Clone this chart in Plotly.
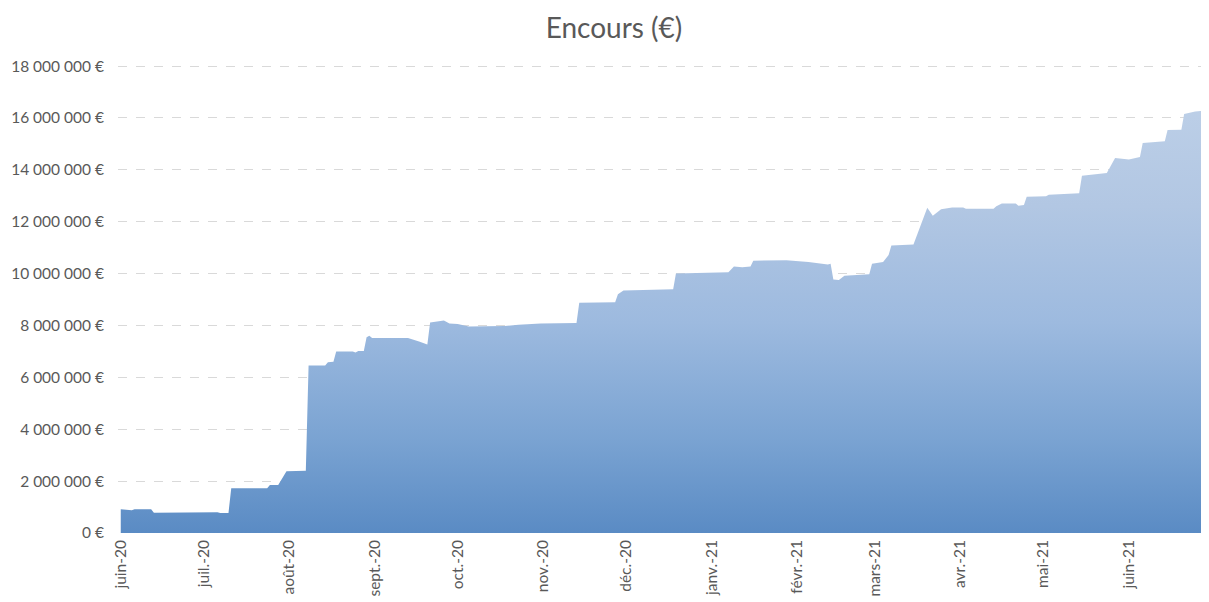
import plotly.graph_objects as go

# Daily outstanding amount (€) (step points)
dates = [
    "2020-06-01", "2020-06-05", "2020-06-06", "2020-06-12", "2020-06-13",
    "2020-07-03", "2020-07-04", "2020-07-06", "2020-07-07", "2020-07-10",
    "2020-07-11", "2020-07-24", "2020-07-25", "2020-07-28", "2020-07-31",
    "2020-08-07", "2020-08-08", "2020-08-14", "2020-08-15", "2020-08-17",
    "2020-08-18", "2020-08-24", "2020-08-25", "2020-08-26", "2020-08-28",
    "2020-08-29", "2020-08-30", "2020-08-31", "2020-09-10", "2020-09-13",
    "2020-09-17", "2020-09-20", "2020-09-21", "2020-09-26", "2020-09-28",
    "2020-10-01", "2020-10-05", "2020-10-18", "2020-10-23", "2020-10-31",
    "2020-11-13", "2020-11-14", "2020-11-27", "2020-11-28", "2020-11-30",
    "2020-12-18", "2020-12-19", "2021-01-07", "2021-01-09", "2021-01-12",
    "2021-01-15", "2021-01-16", "2021-01-28", "2021-02-05", "2021-02-12",
    "2021-02-13", "2021-02-14", "2021-02-16", "2021-02-18", "2021-02-27",
    "2021-02-28", "2021-03-04", "2021-03-06", "2021-03-07", "2021-03-15",
    "2021-03-20", "2021-03-22", "2021-03-25", "2021-03-29", "2021-04-02",
    "2021-04-03", "2021-04-13", "2021-04-14", "2021-04-16", "2021-04-21",
    "2021-04-22", "2021-04-24", "2021-04-25", "2021-05-02", "2021-05-03",
    "2021-05-14", "2021-05-15", "2021-05-24", "2021-05-27", "2021-06-01",
    "2021-06-05", "2021-06-06", "2021-06-14", "2021-06-15", "2021-06-20",
    "2021-06-21", "2021-06-25", "2021-06-27", "2021-06-30",
]
encours = [
    920000, 880000, 920000, 920000, 780000,
    780000, 800000, 800000, 770000, 770000,
    1730000, 1730000, 1850000, 1850000, 2380000,
    2400000, 6460000, 6460000, 6580000, 6600000,
    7000000, 7000000, 6960000, 7020000, 7020000,
    7550000, 7600000, 7520000, 7520000, 7520000,
    7380000, 7270000, 8120000, 8190000, 8080000,
    8060000, 7960000, 7980000, 8030000, 8080000,
    8100000, 8880000, 8900000, 9200000, 9350000,
    9400000, 10000000, 10050000, 10270000, 10250000,
    10270000, 10500000, 10520000, 10450000, 10350000,
    10380000, 9770000, 9750000, 9920000, 9980000,
    10380000, 10450000, 10720000, 11080000, 11120000,
    12540000, 12230000, 12480000, 12550000, 12550000,
    12500000, 12500000, 12600000, 12700000, 12700000,
    12620000, 12650000, 12960000, 12980000, 13040000,
    13100000, 13770000, 13880000, 14460000, 14400000,
    14500000, 15040000, 15100000, 15540000, 15550000,
    16150000, 16250000, 16270000, 16200000,
]

month_ticks = [
    "2020-06-01", "2020-07-01", "2020-08-01", "2020-09-01", "2020-10-01",
    "2020-11-01", "2020-12-01", "2021-01-01", "2021-02-01", "2021-03-01",
    "2021-04-01", "2021-05-01", "2021-06-01",
]
month_labels = [
    "juin-20", "juil.-20", "août-20", "sept.-20", "oct.-20", "nov.-20",
    "déc.-20", "janv.-21", "févr.-21", "mars-21", "avr.-21", "mai-21", "juin-21",
]
y_ticks = [0, 2000000, 4000000, 6000000, 8000000, 10000000,
           12000000, 14000000, 16000000, 18000000]
y_labels = ["{:,d} €".format(v).replace(",", " ") for v in y_ticks]

FONT = "Lato, 'Open Sans', sans-serif"
GREY = "#595959"

fig = go.Figure()
fig.add_trace(go.Scatter(
    x=dates, y=encours,
    mode="lines",
    line=dict(width=0, color="#6f9bd0"),
    fill="tozeroy",
    fillgradient=dict(
        type="vertical",
        start=0, stop=18000000,
        colorscale=[[0.0, "#5a8bc4"], [0.2, "#7aa3d2"],
                    [0.45, "#9dbadf"], [0.7, "#b2c7e3"], [1.0, "#c0d2e9"]],
    ),
    hoverinfo="x+y",
    showlegend=False,
))

# the page adds an 8px body margin, so the figure is sized/placed to compensate
fig.update_layout(
    width=1201, height=594,
    paper_bgcolor="white", plot_bgcolor="white",
    margin=dict(l=110, r=0, t=55, b=69),
    font=dict(family=FONT, color=GREY, size=15),
    title=dict(text="Encours (€)", x=606 / 1201, xref="container", xanchor="center",
               y=1 - 20 / 594, yref="container", yanchor="middle",
               font=dict(family=FONT, size=28, color=GREY)),
    xaxis=dict(
        type="date",
        range=["2020-05-31", "2021-06-30"],
        tickvals=month_ticks, ticktext=month_labels,
        tickangle=-90, showgrid=False, zeroline=False,
        showline=False, ticks="", automargin=False,
        ticklabelstandoff=3,
        tickfont=dict(size=15.5, color=GREY),
    ),
    yaxis=dict(
        range=[0, 18120000],
        tickvals=y_ticks, ticktext=y_labels,
        showgrid=True, gridcolor="#d9d9d9", griddash="dash", gridwidth=1,
        zeroline=False, showline=False, ticks="", automargin=False,
        ticklabelstandoff=13,
        tickfont=dict(size=15.5, color=GREY),
    ),
)

fig.write_html("out.html")
